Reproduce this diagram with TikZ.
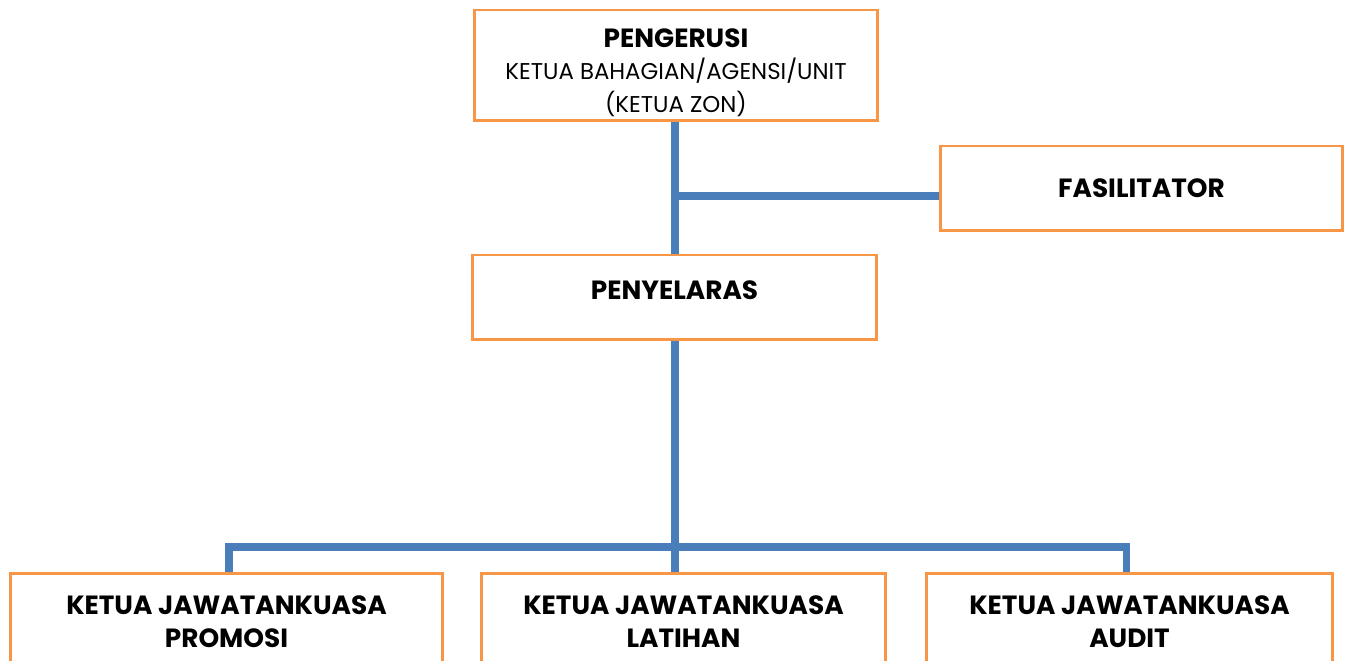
\documentclass[tikz,border=0pt]{standalone}
\usepackage{fontspec}
\setmainfont{Poppins}
\definecolor{boxorange}{HTML}{F79646}
\definecolor{lineblue}{HTML}{4A7EBB}
\newcommand{\subtxt}{\mdseries\fontsize{13}{16}\selectfont}
\begin{document}
\begin{tikzpicture}[x=0.02cm,y=-0.02cm,
  orgbox/.style={draw=boxorange,line width=1.7pt,fill=white,inner sep=0pt,align=center,font=\bfseries\fontsize{15}{19}\selectfont},
  conn/.style={draw=lineblue,line width=4pt}]
\useasboundingbox (0,0) rectangle (1345,661);
\clip (0,0) rectangle (1345,661);
\coordinate (j1) at (675,196);
\coordinate (j2) at (675,547);
\coordinate (jl) at (229,547);
\coordinate (jr) at (1126,547);
% nodes
\node[orgbox,minimum width=8.08cm,minimum height=2.22cm] (peng) at (676,65.5)
  {\rule{0pt}{19pt}PENGERUSI\\[-1pt]\subtxt KETUA BAHAGIAN/AGENSI/UNIT\\\subtxt (KETUA ZON)};
\node[orgbox,minimum width=8.06cm,minimum height=1.7cm] (fasi) at (1141.5,188.5) {\raisebox{-1pt}{FASILITATOR}};
\node[orgbox,minimum width=8.1cm,minimum height=1.7cm] (peny) at (674.5,297.5) {\raisebox{8pt}{PENYELARAS}};
\node[orgbox,minimum width=8.66cm,minimum height=1.92cm,anchor=north] (prom) at (226.5,572) {KETUA JAWATANKUASA\\PROMOSI};
\node[orgbox,minimum width=8.1cm,minimum height=1.92cm,anchor=north] (lat) at (683.5,572) {KETUA JAWATANKUASA\\LATIHAN};
\node[orgbox,minimum width=8.14cm,minimum height=1.92cm,anchor=north] (aud) at (1129.5,572) {KETUA JAWATANKUASA\\AUDIT};
% connectors
\draw[conn] (peng.south -| j1) -- (peny.north -| j1);
\draw[conn] (j1) -- (fasi.west |- j1);
\draw[conn] (peny.south -| j2) -- (lat.north -| j2);
\draw[conn] (prom.north -| jl) -- (jl) -- (jr) -- (aud.north -| jr);
\end{tikzpicture}
\end{document}
